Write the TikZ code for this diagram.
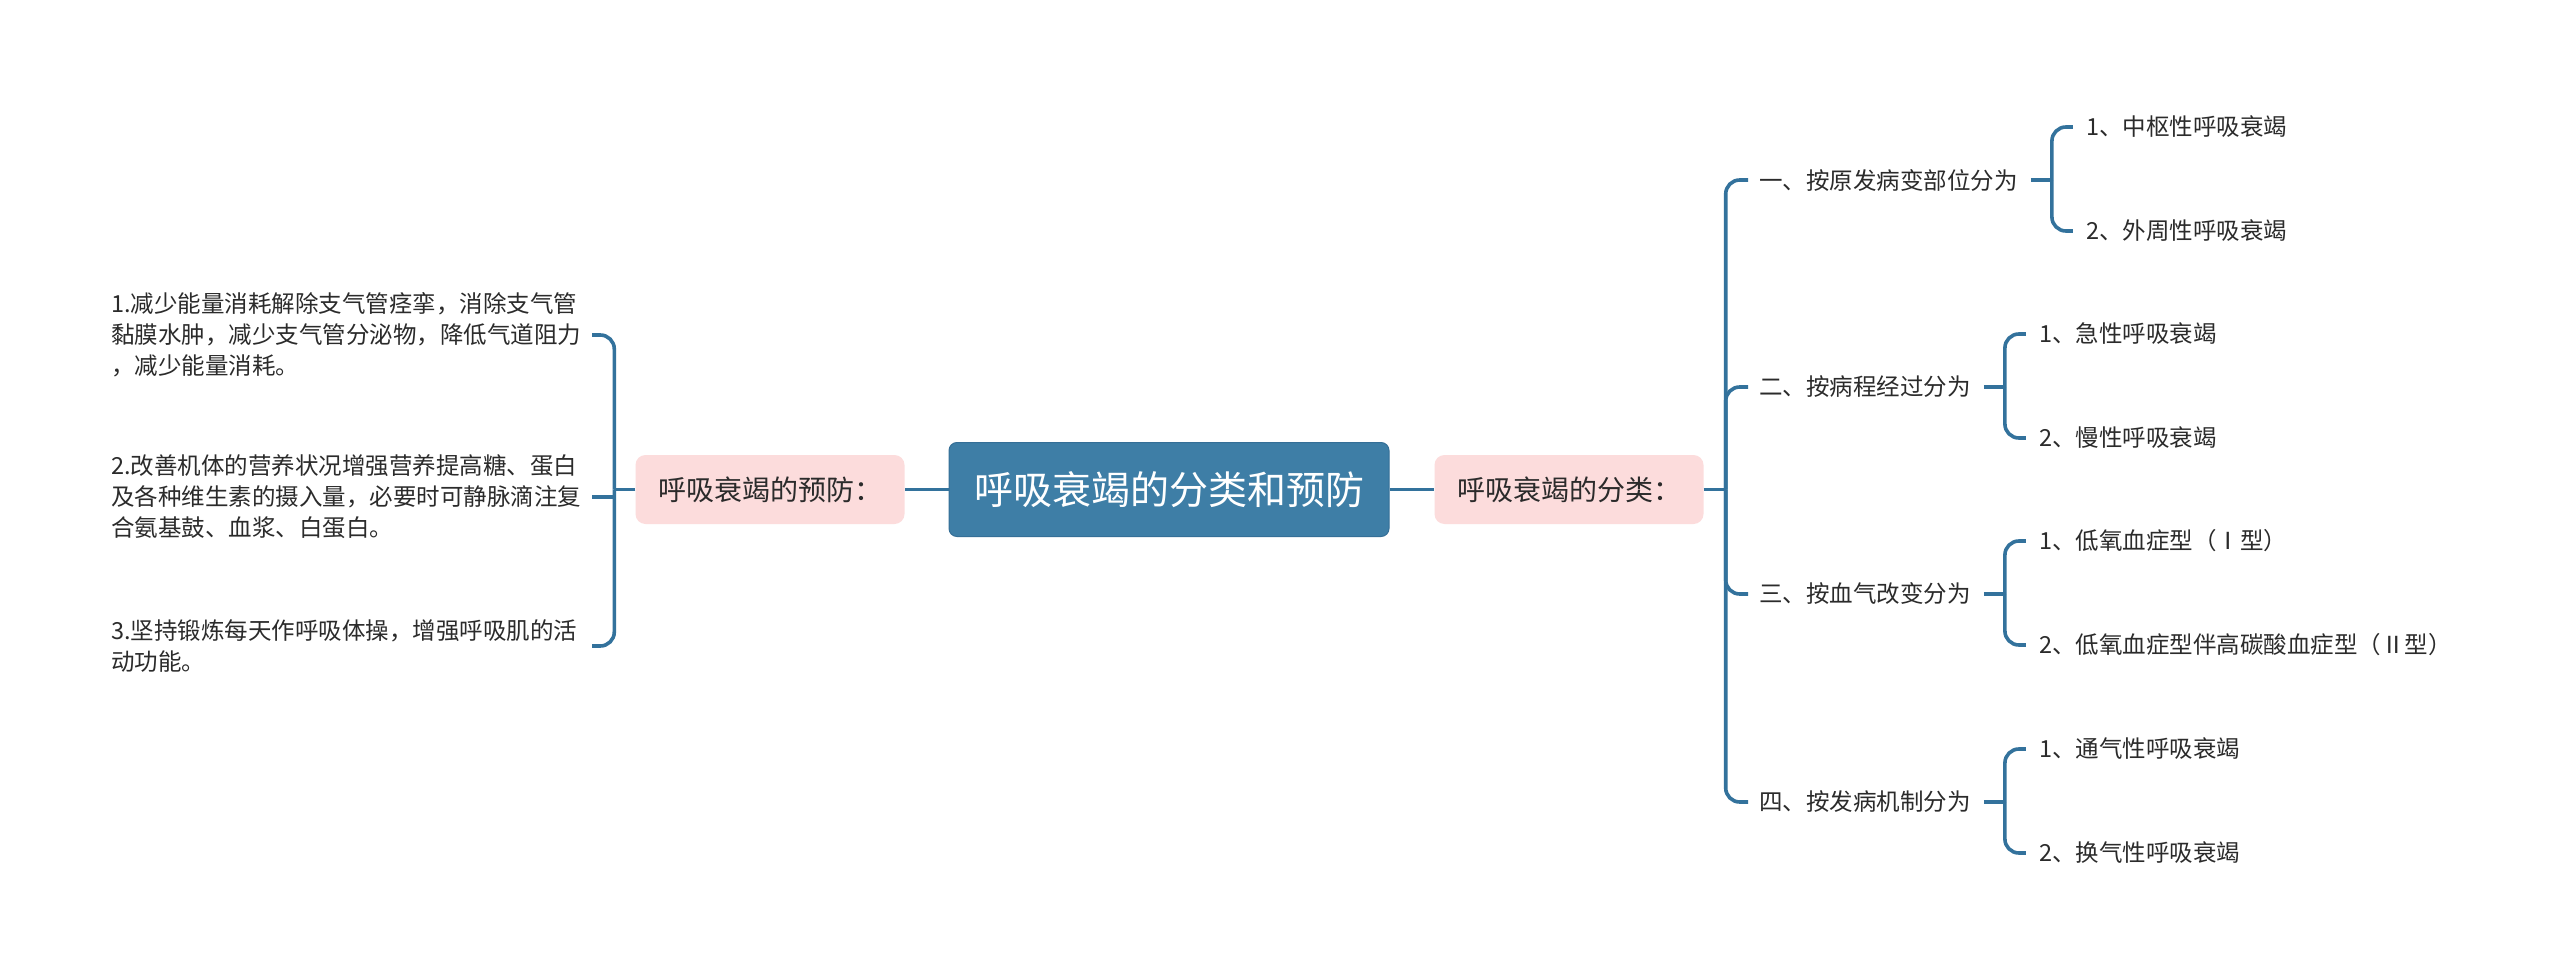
\documentclass[tikz,border=0pt]{standalone}
\usepackage{fontspec}
\setmainfont{Noto Sans CJK SC}
\usetikzlibrary{calc}
\definecolor{lc}{HTML}{33729C}
\definecolor{rootfill}{HTML}{3E7EA6}
\definecolor{rootborder}{HTML}{356F97}
\definecolor{pinkfill}{HTML}{FCDCDC}
\definecolor{tc}{HTML}{2B2B2B}
\begin{document}
\begin{tikzpicture}[x=1pt,y=-1pt,
  conn/.style={draw=lc, line width=3.6pt, rounded corners=14pt},
  rootbox/.style={fill=rootfill, draw=rootborder, line width=1pt, rounded corners=8pt,
    minimum width=440pt, minimum height=94pt, inner sep=0pt, text=white,
    font=\fontsize{39}{39}\selectfont},
  catbox/.style={fill=pinkfill, rounded corners=10pt, minimum width=269pt, minimum height=69pt,
    inner sep=0pt, text=tc, font=\fontsize{28}{28}\selectfont},
  leaf/.style={inner sep=0pt, anchor=west, text=tc, font=\fontsize{23.5}{31}\selectfont},
  block/.style={leaf, align=left}]
\useasboundingbox (0,0) rectangle (2560,979);
\fill[white] (0,0) rectangle (2560,979);

% central and category nodes
\node[rootbox] (root) at (1169,489.5) {呼吸衰竭的分类和预防};
\node[catbox] (R) at (1569,489.5) {呼吸衰竭的分类：};
\node[catbox] (L) at (770,489.5) {呼吸衰竭的预防：};

% left blocks
\node[block] (p1) at (111,335) {1.减少能量消耗解除支气管痉挛，消除支气管\\黏膜水肿，减少支气管分泌物，降低气道阻力\\，减少能量消耗。};
\node[block] (p2) at (111,497) {2.改善机体的营养状况增强营养提高糖、蛋白\\及各种维生素的摄入量，必要时可静脉滴注复\\合氨基鼓、血浆、白蛋白。};
\node[block] (p3) at (111,646) {3.坚持锻炼每天作呼吸体操，增强呼吸肌的活\\动功能。};

% right level 1
\node[leaf] (a) at (1759,180) {一、按原发病变部位分为};
\node[leaf] (b) at (1759,387) {二、按病程经过分为};
\node[leaf] (c) at (1759,594) {三、按血气改变分为};
\node[leaf] (d) at (1759,802) {四、按发病机制分为};

% right level 2
\node[leaf] (a1) at ($(a.east)+(68,-53)$) {1、中枢性呼吸衰竭};
\node[leaf] (a2) at ($(a.east)+(68,51)$) {2、外周性呼吸衰竭};
\node[leaf] (b1) at ($(b.east)+(68,-53)$) {1、急性呼吸衰竭};
\node[leaf] (b2) at ($(b.east)+(68,51)$) {2、慢性呼吸衰竭};
\node[leaf] (c1) at ($(c.east)+(68,-53)$) {1、低氧血症型（Ⅰ型）};
\node[leaf] (c2) at ($(c.east)+(68,51)$) {2、低氧血症型伴高碳酸血症型（Ⅱ型）};
\node[leaf] (d1) at ($(d.east)+(68,-53)$) {1、通气性呼吸衰竭};
\node[leaf] (d2) at ($(d.east)+(68,51)$) {2、换气性呼吸衰竭};

% connectors root
\draw[conn] (root.east) -- (R.west);
\draw[conn] (root.west) -- (L.east);

% left bracket
\coordinate (lv) at ($(L.west)+(-21,0)$);
\coordinate (lend) at (592,0);
\draw[conn] (L.west) -- (lv);
\draw[conn] (lv) |- (p1.east -| lend);
\draw[conn, rounded corners=0pt] (lv |- p2.east) -- (p2.east -| lend);
\draw[conn] (lv) |- (p3.east -| lend);

% right bracket
\coordinate (rv) at ($(R.east)+(22,0)$);
\draw[conn] (R.east) -- (rv);
\foreach \n in {a,b,c,d}{
  \draw[conn] (rv) |- ([xshift=-11pt]\n.west);
  \coordinate (\n v) at ($(\n.east)+(34,0)$);
  \draw[conn] ([xshift=13pt]\n.east) -- (\n v);
  \draw[conn] (\n v) |- ([xshift=-13pt]\n 1.west);
  \draw[conn] (\n v) |- ([xshift=-13pt]\n 2.west);
}
\end{tikzpicture}
\end{document}
